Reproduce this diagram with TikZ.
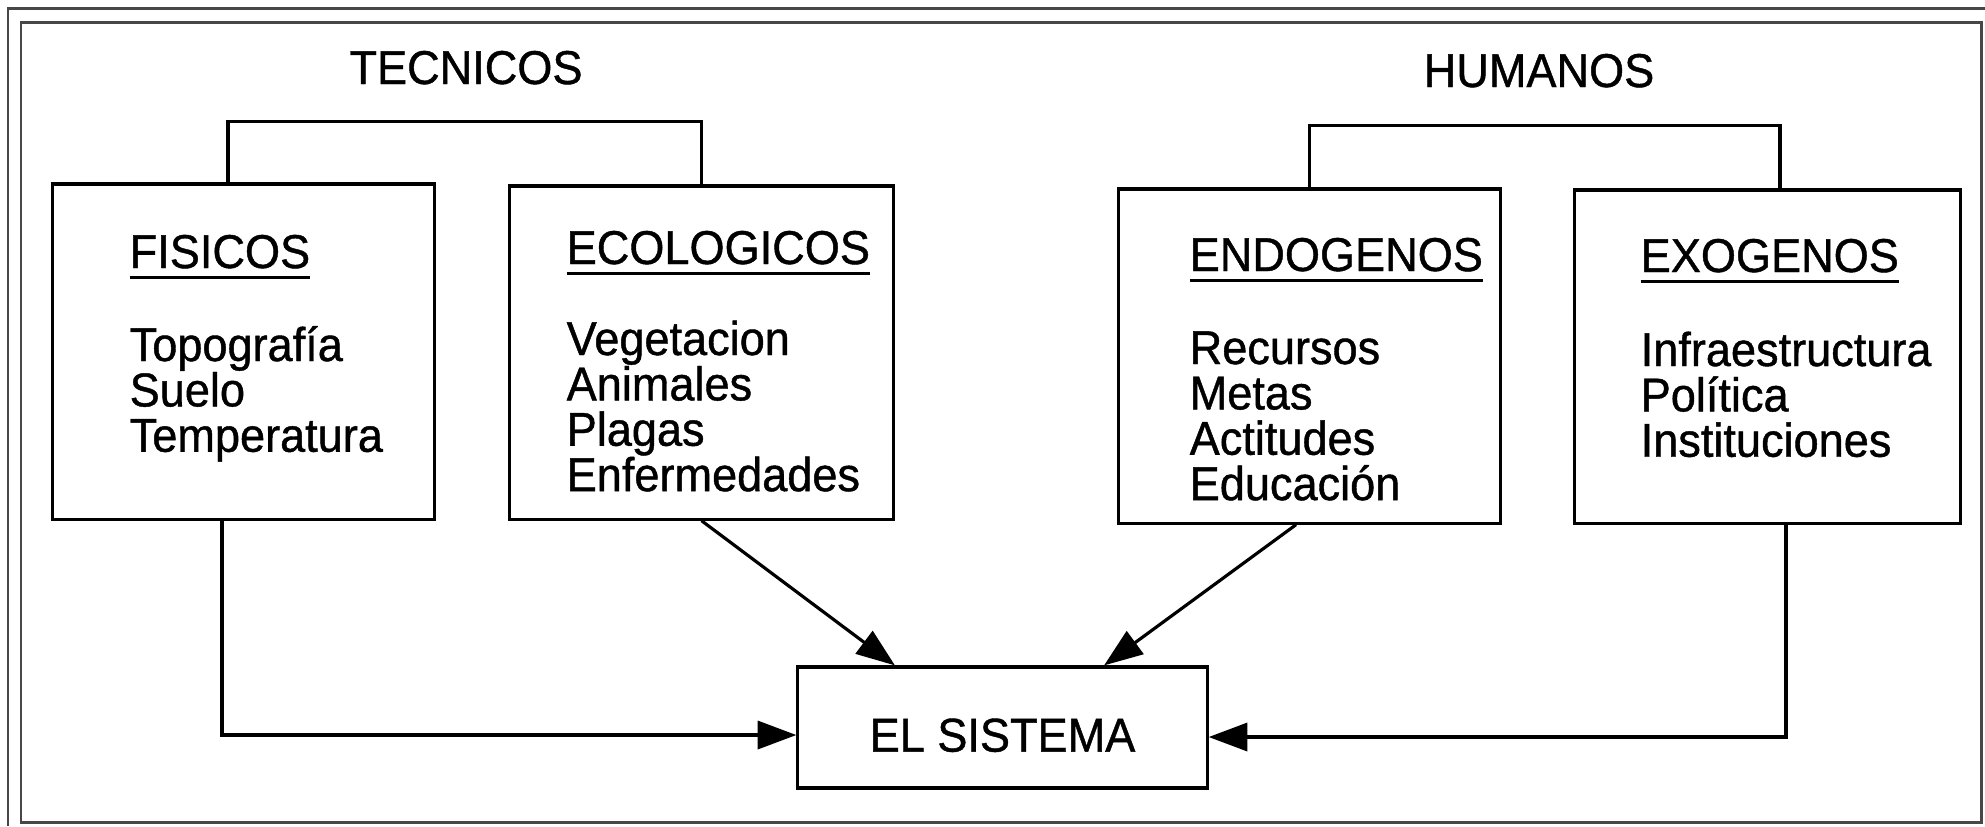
\documentclass[tikz,border=0pt]{standalone}
\usepackage{fontspec}
\setmainfont{Liberation Sans}[FakeStretch=0.95,FakeBold=0.9]
\usetikzlibrary{arrows.meta}
\definecolor{grismarco}{HTML}{474747}
\newcommand\titulo[1]{\setbox0\hbox{#1}\rlap{\rule[-3.2pt]{\wd0}{0.95pt}}\box0}

\begin{document}
\begin{tikzpicture}[x=0.01cm,y=-0.01cm]
      \tikzstyle{caja}=[draw,rectangle,line width=0.9pt,inner sep=0pt]
      \tikzstyle{texto}=[inner sep=0pt,font=\fontsize{13.5}{12.9}\selectfont]
      \tikzstyle{lista}=[texto,anchor=base west,text width=3.3cm,align=left]
      \tikzstyle{linea}=[line width=0.9pt]
      \tikzstyle{flecha}=[linea,-{Triangle[length=11pt,width=8pt]}]
      \useasboundingbox (0,0) rectangle (1985,826);
      \draw[grismarco,line width=0.85pt] (8,826) |- (1985,8);
      \draw[grismarco,line width=0.85pt] (21,22) rectangle (1981,822);

      \node[texto,anchor=base] (tecnicos) at (466,84) {TECNICOS};
      \node[texto,anchor=base] (humanos) at (1539,87) {HUMANOS};

      \node[caja,minimum width=3.81cm,minimum height=3.35cm] (b_fis) at (243.5,351.5) {};
      \node[caja,minimum width=3.83cm,minimum height=3.33cm] (b_eco) at (701.5,352.5) {};
      \node[caja,minimum width=3.81cm,minimum height=3.34cm] (b_endo) at (1309.5,356) {};
      \node[caja,minimum width=3.85cm,minimum height=3.33cm] (b_exo) at (1767.5,356.5) {};
      \node[caja,texto,minimum width=4.09cm,minimum height=1.21cm,
            text height=13.7pt,text depth=0pt] (sis) at (1002.5,727.5) {EL SISTEMA};

      \node[texto,anchor=base west] (t_fis) at (129,268) {\titulo{FISICOS}};
      \node[lista] (l_fis) at (129,361) {Topografía\\Suelo\\Temperatura};
      \node[texto,anchor=base west] (t_eco) at (566,264) {\titulo{ECOLOGICOS}};
      \node[lista] (l_eco) at (566,355) {Vegetacion\\Animales\\Plagas\\Enfermedades};
      \node[texto,anchor=base west] (t_endo) at (1189,271) {\titulo{ENDOGENOS}};
      \node[lista] (l_endo) at (1189,364) {Recursos\\Metas\\Actitudes\\Educación};
      \node[texto,anchor=base west] (t_exo) at (1640,272) {\titulo{EXOGENOS}};
      \node[lista] (l_exo) at (1640,366) {Infraestructura\\Política\\Instituciones};

      \draw[linea] ([xshift=-1.55mm]b_fis.north) -- ++(0,-61) -| (b_eco.north);
      \draw[linea] (b_endo.north) -- ++(0,-62) -| ([xshift=1.25mm]b_exo.north);
      \draw[flecha] ([xshift=-2.15mm]b_fis.south) |- ([yshift=-0.75mm]sis.west);
      \draw[flecha] ([xshift=1.85mm]b_exo.south) |- ([yshift=-0.95mm]sis.east);
      \draw[flecha] (b_eco.south) -- ([xshift=-10.75mm]sis.north);
      \draw[flecha] ([xshift=-1.35mm]b_endo.south) -- ([xshift=10.15mm]sis.north);
\end{tikzpicture}
\end{document}
